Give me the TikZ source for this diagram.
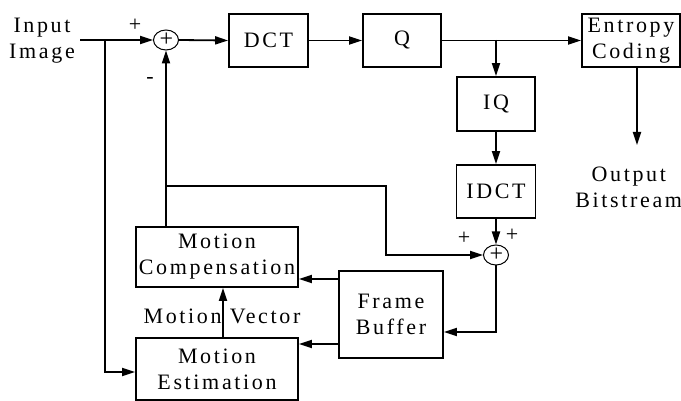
\documentclass[tikz,border=0pt]{standalone}
\usepackage{fontspec}
\setmainfont{Liberation Serif}[LetterSpace=12]
\usetikzlibrary{arrows.meta,shapes.geometric}
\begin{document}
\begin{tikzpicture}[x=1pt,y=-1pt,
  line width=1.8pt,
  arr/.style={-{Triangle[length=13pt,width=8pt]}},
  blk/.style={draw,line width=1.8pt,inner sep=0pt,align=center,font=\fontsize{22}{26}\selectfont},
  txt/.style={inner sep=0pt,align=center,font=\fontsize{22}{26}\selectfont},
  sumnode/.style={draw,ellipse,line width=1pt,minimum width=25pt,minimum height=20pt,inner sep=0pt,font=\fontsize{24}{24}\selectfont},
  sgn/.style={inner sep=0pt,font=\fontsize{22}{22}\selectfont}]
\useasboundingbox (0,0) rectangle (681,401);
% nodes
\node[txt] (in) at (42,41) {Input\\Image};
\node[sumnode] (s1) at (166,40) {\kern1pt+};
\node[blk,minimum width=79pt,minimum height=53pt] (dct) at (268.5,40.5) {DCT};
\node[blk,minimum width=78pt,minimum height=53pt] (q) at (402,40.5) {Q};
\node[blk,minimum width=98pt,minimum height=53pt] (ent) at (631,40.5) {Entropy\\Coding};
\node[blk,minimum width=78pt,minimum height=54pt] (iq) at (496,104) {IQ};
\node[blk,minimum width=79pt,minimum height=53pt] (idct) at (496,191.5) {IDCT};
\node[sumnode] (s2) at (496,255) {\kern1pt+};
\node[blk,minimum width=104pt,minimum height=87pt] (fb) at (391,314.5) {Frame\\Buffer};
\node[blk,minimum width=162pt,minimum height=60pt] (mc) at (217,257) {Motion\\Compensation};
\node[blk,minimum width=162pt,minimum height=62pt] (me) at (217,369) {Motion\\Estimation};
\node[txt,anchor=east] (out) at (683,187) {Output\\Bitstream};
\node[txt] (mv) at (222,316) {Motion Vector};
% signs
\node[sgn] (p1) at (135,25) {+};
\node[sgn] (m1) at (150,80) {-};
\node[sgn] (p2) at (464,238) {+};
\node[sgn] (p3) at (512,235) {+};
% helper coordinates
\coordinate (a0) at (80,40);
\coordinate (b1) at (105,40);
\coordinate (b1e) at (105,372);
\coordinate (b2) at (496,40);
\coordinate (o1) at (637,145);
\coordinate (c1) at (496,332);
\coordinate (y1) at (0,279);
\coordinate (y2) at (0,344);
\coordinate (mvx) at (223,0);
\coordinate (j1) at (166,186);
\coordinate (j2) at (386,186);
% connectors
\draw[arr] (a0) -- (s1.west);
\draw[arr] (b1) -- (b1e) -- (b1e -| me.west);
\draw[arr] (s1.east) -- (dct.west);
\draw[arr] (dct) -- (q);
\draw[arr] (q) -- (ent);
\draw[arr] (b2) -- (iq.north);
\draw[arr] (iq) -- (idct);
\draw[arr] (idct) -- (s2);
\draw[arr] (ent.south -| o1) -- (o1);
\draw[arr] (s2.south) -- (c1) -- (c1 -| fb.east);
\draw[arr] (fb.west |- y1) -- (mc.east |- y1);
\draw[arr] (fb.west |- y2) -- (me.east |- y2);
\draw[arr] (me.north -| mvx) -- (mc.south -| mvx);
\draw[arr] (mc.north -| s1) -- (s1.south);
\draw[arr] (j1) -- (j2) |- (s2.west);
\end{tikzpicture}
\end{document}
